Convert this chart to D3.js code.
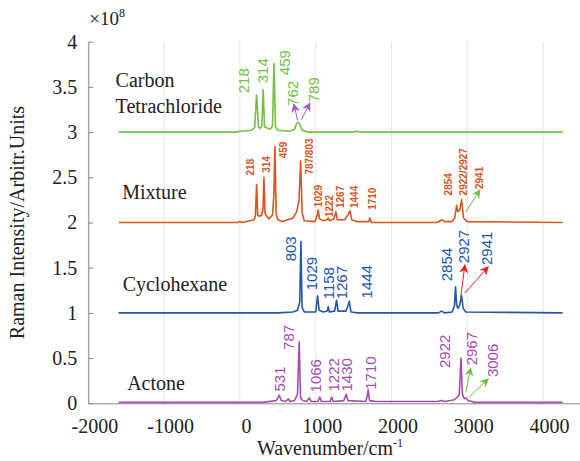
<!DOCTYPE html>
<html>
<head>
<meta charset="utf-8">
<script src="https://cdn.jsdelivr.net/npm/d3@7"></script>
<style>
  body { margin: 0; background: #fff; }
  svg { display: block; }
</style>
</head>
<body>
<svg id="chart"></svg>
<script>
// spectra, [wavenumber, intensity x1e8]
var ccl4 = [
  [-1600, 3.0], [-50, 3.0], [0, 3.01], [150, 3.02], [195, 3.05], [220, 3.41], [245, 3.06],
  [270, 3.04], [290, 3.07], [307, 3.47], [325, 3.06], [400, 3.03], [430, 3.07], [449, 3.76],
  [470, 3.06], [500, 3.02], [650, 3.01], [720, 3.03], [750, 3.10], [769, 3.11], [790, 3.09],
  [820, 3.02], [900, 3.0], [1500, 3.0], [1540, 3.01], [1580, 3.0], [4257, 3.0]
];
var mixture = [
  [-1600, 2.0], [-30, 2.0], [0, 2.01], [30, 2.0], [190, 2.03], [205, 2.08], [220, 2.42],
  [235, 2.08], [260, 2.07], [285, 2.08], [305, 2.15], [317, 2.50], [332, 2.1], [380, 2.04],
  [430, 2.08], [448, 2.3], [462, 2.84], [478, 2.1], [500, 2.03], [560, 2.01], [700, 2.05],
  [750, 2.12], [780, 2.25], [801, 2.68], [822, 2.1], [850, 2.02], [990, 2.01], [1020, 2.08],
  [1033, 2.14], [1050, 2.04], [1100, 2.02], [1150, 2.03], [1165, 2.05], [1180, 2.02],
  [1240, 2.04], [1266, 2.12], [1285, 2.03], [1380, 2.03], [1430, 2.09], [1451, 2.13],
  [1475, 2.03], [1540, 2.01], [1700, 2.01], [1715, 2.05], [1735, 2.0], [2600, 2.0],
  [2669, 2.03], [2700, 2.01], [2800, 2.01], [2835, 2.05], [2859, 2.19], [2875, 2.12],
  [2900, 2.14], [2925, 2.25], [2950, 2.05], [3000, 2.01], [4257, 2.0]
];
var cyclohexane = [
  [-1600, 1.0], [500, 1.0], [700, 1.01], [760, 1.03], [790, 1.12], [805, 1.79], [820, 1.06],
  [850, 1.01], [1000, 1.01], [1025, 1.19], [1045, 1.03], [1100, 1.01], [1150, 1.02],
  [1165, 1.07], [1180, 1.01], [1250, 1.02], [1275, 1.14], [1295, 1.02], [1400, 1.02],
  [1425, 1.08], [1442, 1.13], [1465, 1.01], [1550, 1.0], [2620, 1.0], [2660, 1.02],
  [2700, 1.0], [2800, 1.01], [2830, 1.08], [2845, 1.29], [2860, 1.08], [2880, 1.05],
  [2900, 1.09], [2925, 1.19], [2945, 1.05], [2980, 1.01], [4257, 1.0]
];
var actone = [
  [-1600, 0.01], [300, 0.01], [480, 0.03], [520, 0.09], [545, 0.03], [600, 0.02], [640, 0.05],
  [660, 0.02], [720, 0.03], [760, 0.1], [782, 0.68], [800, 0.06], [830, 0.03], [880, 0.02],
  [915, 0.06], [940, 0.02], [1030, 0.02], [1054, 0.07], [1075, 0.02], [1190, 0.02],
  [1211, 0.07], [1230, 0.02], [1370, 0.03], [1403, 0.1], [1425, 0.03], [1660, 0.02],
  [1680, 0.08], [1692, 0.15], [1710, 0.03], [1800, 0.02], [2600, 0.02], [2660, 0.03],
  [2700, 0.02], [2830, 0.04], [2870, 0.07], [2895, 0.1], [2916, 0.5], [2935, 0.1],
  [2960, 0.05], [2982, 0.06], [3010, 0.03], [3100, 0.01], [4257, 0.01]
];

var xTicks = [-2000, -1000, 0, 1000, 2000, 3000, 4000];
var yTicks = [0, 0.5, 1, 1.5, 2, 2.5, 3, 3.5, 4];

// series names: [text, wavenumber, intensity]
var names = [
  ["Carbon", -1640, 3.50], ["Tetrachloride", -1640, 3.21],
  ["Mixture", -1553, 2.26], ["Cyclohexane", -1547, 1.24], ["Actone", -1487, 0.15]
];

// peak labels: [text, wavenumber, intensity at start of text]
var ccl4Labels = [["218", 53, 3.43], ["314", 297, 3.54], ["459", 587, 3.63], ["762", 693, 3.29], ["789", 970, 3.33]];
var mixtureLabels = [
  ["218", 132, 2.52], ["314", 343, 2.55], ["459", 571, 2.71], ["787/803", 923, 2.53],
  ["1029", 1033, 2.17], ["1222", 1178, 2.06], ["1267", 1328, 2.16], ["1444", 1504, 2.16],
  ["1710", 1751, 2.14], ["2854", 2748, 2.30], ["2922/2927", 2946, 2.30], ["2941", 3166, 2.37]
];
var cycloLabels = [
  ["803", 673, 1.57], ["1029", 946, 1.25], ["1158", 1165, 1.15], ["1267", 1342, 1.15],
  ["1444", 1671, 1.16], ["2854", 2727, 1.35], ["2927", 2946, 1.55], ["2941", 3255, 1.53]
];
var actoneLabels = [
  ["531", 528, 0.13], ["787", 646, 0.59], ["1066", 999, 0.12], ["1222", 1231, 0.13],
  ["1430", 1408, 0.13], ["1710", 1728, 0.15], ["2922", 2704, 0.39], ["2967", 3057, 0.42],
  ["3006", 3334, 0.29]
];

// arrows: [x1, y1, x2, y2] in data units
var ccl4Arrows = [[761, 3.13, 712, 3.31], [814, 3.14, 923, 3.32]];
var mixtureArrows = [[2982, 2.12, 3166, 2.36]];
var cycloArrows = [[2912, 1.17, 2968, 1.53], [2968, 1.22, 3276, 1.51]];
var actoneArrows = [[2982, 0.13, 3044, 0.39], [3025, 0.07, 3276, 0.27]];

var svgWidth = 580, svgHeight = 461;
var green = "#72bf44", orange = "#d9541e", blue = "#2254b0", purple = "#a64caf";

var svg = d3.select("#chart")
    .attr("width", svgWidth)
    .attr("height", svgHeight);

var x = d3.scaleLinear().domain([-2000, 4500]).range([88.3, 581]);
var y = d3.scaleLinear().domain([0, 4]).range([403.3, 41.7]);

var defs = svg.append("defs");
function marker(id, color) {
    defs.append("marker")
        .attr("id", id)
        .attr("viewBox", "0 0 10 10")
        .attr("refX", 9).attr("refY", 5)
        .attr("markerWidth", 9).attr("markerHeight", 9)
        .attr("markerUnits", "userSpaceOnUse")
        .attr("orient", "auto")
        .append("path")
        .attr("d", "M0,0 L10,5 L0,10 L3,5 z")
        .attr("fill", color);
}
marker("arrPurple", "#a657c9");
marker("arrGreen", "#6cc23e");
marker("arrRed", "#ee1c1c");

// vertical grid
svg.append("g")
    .selectAll("line")
    .data(xTicks)
    .enter()
    .append("line")
    .attr("x1", function (d) { return x(d); })
    .attr("x2", function (d) { return x(d); })
    .attr("y1", y(4))
    .attr("y2", y(0))
    .attr("stroke", "#e6e6e6")
    .attr("stroke-width", 1);

// x axis
var xAxis = svg.append("g")
    .attr("transform", "translate(0," + y(0) + ")")
    .call(d3.axisBottom(x).tickValues(xTicks).tickSize(0).tickPadding(16).tickFormat(d3.format("d")));
xAxis.select(".domain").attr("stroke", "#888");
xAxis.selectAll("text")
    .attr("font-family", "'Liberation Serif', 'Times New Roman', serif")
    .attr("font-size", 20)
    .attr("fill", "#222")
    .attr("dx", "0.3em")
    .text(function (d) { return d < 0 ? "-" + Math.abs(d) : d; });

// y axis
var yAxis = svg.append("g")
    .attr("transform", "translate(" + x(-2000) + ",0)")
    .call(d3.axisLeft(y).tickValues(yTicks).tickSizeInner(-5).tickSizeOuter(0).tickPadding(11).tickFormat(function (d) { return d; }));
yAxis.select(".domain").attr("stroke", "#888");
yAxis.selectAll(".tick line").attr("stroke", "#888");
yAxis.selectAll("text")
    .attr("font-family", "'Liberation Serif', 'Times New Roman', serif")
    .attr("font-size", 20)
    .attr("fill", "#222");

// x10^8
var expo = svg.append("text")
    .attr("x", x(-2000) + 1)
    .attr("y", 25)
    .attr("font-family", "'Liberation Serif', 'Times New Roman', serif")
    .attr("font-size", 19)
    .attr("fill", "#222");
expo.append("tspan").text("\u00d710");
expo.append("tspan").attr("font-size", 12).attr("dy", -8).text("8");

// axis titles
svg.append("text")
    .attr("transform", "translate(24," + ((y(0) + y(4)) / 2) + ") rotate(-90)")
    .attr("text-anchor", "middle")
    .attr("font-family", "'Liberation Serif', 'Times New Roman', serif")
    .attr("font-size", 20)
    .attr("fill", "#222")
    .text("Raman Intensity/Arbitr.Units");

var xt = svg.append("text")
    .attr("x", 330)
    .attr("y", 455)
    .attr("text-anchor", "middle")
    .attr("font-family", "'Liberation Serif', 'Times New Roman', serif")
    .attr("font-size", 20)
    .attr("fill", "#222");
xt.append("tspan").text("Wavenumber/cm");
xt.append("tspan").attr("font-size", 12).attr("dy", -8).text("-1");

// spectra
var line = d3.line()
    .x(function (d) { return x(d[0]); })
    .y(function (d) { return y(d[1]); });

var spectra = [[ccl4, green], [mixture, orange], [cyclohexane, blue], [actone, purple]];
svg.append("g")
    .selectAll("path")
    .data(spectra)
    .enter()
    .append("path")
    .attr("d", function (d) { return line(d[0]); })
    .attr("fill", "none")
    .attr("stroke", function (d) { return d[1]; })
    .attr("stroke-width", 1.6)
    .attr("stroke-linejoin", "round");

// series names
svg.append("g")
    .selectAll("text")
    .data(names)
    .enter()
    .append("text")
    .attr("x", function (d) { return x(d[1]); })
    .attr("y", function (d) { return y(d[2]); })
    .attr("font-family", "'Liberation Serif', 'Times New Roman', serif")
    .attr("font-size", 20)
    .attr("fill", "#222")
    .text(function (d) { return d[0]; });

// peak labels
function peakLabels(data, color, size, weight) {
    svg.append("g")
        .selectAll("text")
        .data(data)
        .enter()
        .append("text")
        .attr("transform", function (d) {
            return "translate(" + x(d[1]) + "," + y(d[2]) + ") rotate(-90)";
        })
        .attr("dy", "0.36em")
        .attr("font-family", "'Liberation Sans', Arial, sans-serif")
        .attr("font-size", size)
        .attr("font-weight", weight)
        .attr("fill", color)
        .text(function (d) { return d[0]; });
}
peakLabels(ccl4Labels, green, 15, "normal");
peakLabels(mixtureLabels, orange, 10, "bold");
peakLabels(cycloLabels, blue, 15, "normal");
peakLabels(actoneLabels, purple, 15, "normal");

// arrows
function arrows(data, color, id) {
    svg.append("g")
        .selectAll("line")
        .data(data)
        .enter()
        .append("line")
        .attr("x1", function (d) { return x(d[0]); })
        .attr("y1", function (d) { return y(d[1]); })
        .attr("x2", function (d) { return x(d[2]); })
        .attr("y2", function (d) { return y(d[3]); })
        .attr("stroke", color)
        .attr("stroke-width", 1)
        .attr("marker-end", "url(#" + id + ")");
}
arrows(ccl4Arrows, "#a657c9", "arrPurple");
arrows(mixtureArrows, "#6cc23e", "arrGreen");
arrows(cycloArrows, "#ee1c1c", "arrRed");
arrows(actoneArrows, "#6cc23e", "arrGreen");
</script>
</body>
</html>
